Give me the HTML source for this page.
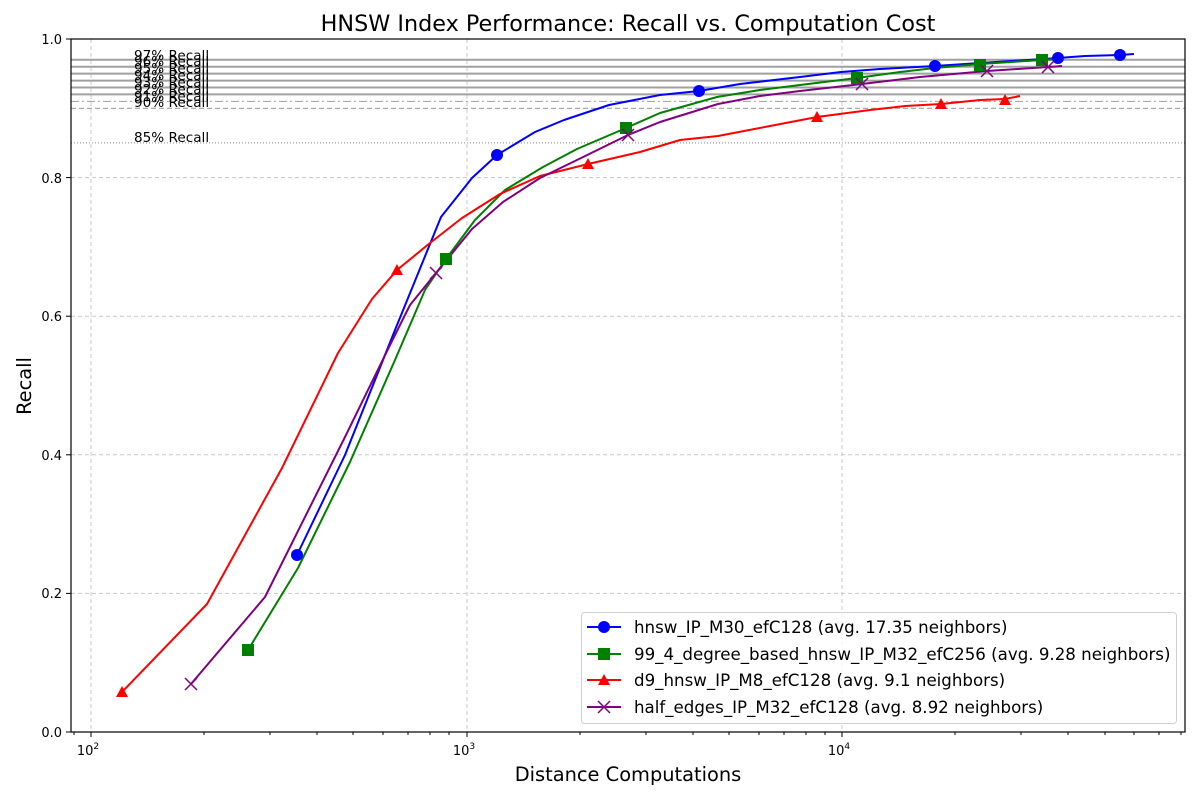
<!DOCTYPE html>
<html><head><meta charset="utf-8"><style>
html,body{margin:0;padding:0;background:#fff}
svg{display:block;font-family:"DejaVu Sans","Liberation Sans",sans-serif}
</style></head><body>
<svg width="1200" height="800" viewBox="0 0 1200 800" xmlns="http://www.w3.org/2000/svg">
<rect width="1200" height="800" fill="#fff"/>
<text x="628" y="31" font-size="22.3" text-anchor="middle">HNSW Index Performance: Recall vs. Computation Cost</text>
<g stroke="#c8c8c8" stroke-dasharray="4,3" stroke-width="1">
<line x1="91" y1="39" x2="91" y2="732"/><line x1="467" y1="39" x2="467" y2="732"/><line x1="842" y1="39" x2="842" y2="732"/>
<line x1="71" y1="593.4" x2="1185" y2="593.4"/><line x1="71" y1="454.8" x2="1185" y2="454.8"/><line x1="71" y1="316.2" x2="1185" y2="316.2"/><line x1="71" y1="177.6" x2="1185" y2="177.6"/>
</g>
<g stroke="#a0a0a0" stroke-width="2">
<line x1="71" y1="59.8" x2="1185" y2="59.8"/><line x1="71" y1="66.7" x2="1185" y2="66.7"/><line x1="71" y1="73.6" x2="1185" y2="73.6"/><line x1="71" y1="80.6" x2="1185" y2="80.6"/><line x1="71" y1="87.5" x2="1185" y2="87.5"/><line x1="71" y1="94.4" x2="1185" y2="94.4"/>
</g>
<line x1="71" y1="101.4" x2="1185" y2="101.4" stroke="#a0a0a0" stroke-width="1" stroke-dasharray="8,3,2,3"/>
<line x1="71" y1="108.3" x2="1185" y2="108.3" stroke="#a0a0a0" stroke-width="1.2" stroke-dasharray="5,3"/>
<line x1="71" y1="142.9" x2="1185" y2="142.9" stroke="#a0a0a0" stroke-width="1.2" stroke-dasharray="1,2"/>
<g font-size="13.6" fill="#000">
<text x="134" y="60">97% Recall</text><text x="134" y="66">96% Recall</text><text x="134" y="73">95% Recall</text><text x="134" y="80">94% Recall</text><text x="134" y="87">93% Recall</text><text x="134" y="94">92% Recall</text><text x="134" y="101">91% Recall</text><text x="134" y="107">90% Recall</text><text x="134" y="142">85% Recall</text>
</g>
<g fill="none" stroke-width="2" stroke-linejoin="round">
<polyline stroke="#0000ff" points="297,555 345,455 395,330 441,217 472,178 497,155 535,132 564,120 609,105 660,95 699,91 740,84 800,77 841,72 880,69 935,66 980,63 1058,58 1085,56 1120,55 1134,54"/>
<polyline stroke="#008000" points="248,650 298,568 350,462 395,360 425,290 446,259 475,220 505,190 543,167 577,149 626,128 660,113 717,97 760,90 800,85 857,78 900,72 935,68 980,64 1042,60 1060,59"/>
<polyline stroke="#ff0000" points="122,692 207,604 282,468 338,353 372,299 397,270 430,243 462,218 500,194 540,176 588,164 640,152 680,140 718,136 770,126 817,117 870,110 905,106 941,104 980,100 1005,99 1020,96"/>
<polyline stroke="#800080" points="191,684 265,597 345,437 390,345 410,305 436,273 472,229 503,202 540,178 577,160 628,135 660,122 718,104 760,96 800,91 862,84 920,77 987,71 1048,67 1062,66"/>
</g>
<g fill="#0000ff"><circle cx="297" cy="555" r="6"/><circle cx="497" cy="155" r="6"/><circle cx="699" cy="91" r="6"/><circle cx="935" cy="66" r="6"/><circle cx="1058" cy="58" r="6"/><circle cx="1120" cy="55" r="6"/></g>
<g fill="#008000"><rect x="242" y="644" width="12" height="12"/><rect x="440" y="253" width="12" height="12"/><rect x="620" y="122" width="12" height="12"/><rect x="851" y="72" width="12" height="12"/><rect x="974" y="59" width="12" height="12"/><rect x="1036" y="54" width="12" height="12"/></g>
<g fill="#ff0000"><polygon points="122,686 116,697 128,697"/><polygon points="397,264 391,275 403,275"/><polygon points="588,158 582,169 594,169"/><polygon points="817,111 811,122 823,122"/><polygon points="941,98 935,109 947,109"/><polygon points="1005,94 999,105 1011,105"/></g>
<g stroke="#800080" stroke-width="1.5">
<path d="M185,678l12,12M197,678l-12,12M430,267l12,12M442,267l-12,12M622,129l12,12M634,129l-12,12M856,78l12,12M868,78l-12,12M981,65l12,12M993,65l-12,12M1042,61l12,12M1054,61l-12,12"/>
</g>
<rect x="71" y="39" width="1114" height="693" fill="none" stroke="#000" stroke-width="1.2"/>
<g stroke="#000" stroke-width="1"><line x1="66" y1="732" x2="71" y2="732"/><line x1="66" y1="593.4" x2="71" y2="593.4"/><line x1="66" y1="454.8" x2="71" y2="454.8"/><line x1="66" y1="316.2" x2="71" y2="316.2"/><line x1="66" y1="177.6" x2="71" y2="177.6"/><line x1="66" y1="39" x2="71" y2="39"/></g>
<g font-size="13" text-anchor="end"><text x="62" y="737">0.0</text><text x="62" y="598">0.2</text><text x="62" y="460">0.4</text><text x="62" y="321">0.6</text><text x="62" y="183">0.8</text><text x="62" y="44">1.0</text></g>
<g stroke="#000" stroke-width="1">
<line x1="91" y1="732" x2="91" y2="737"/><line x1="467" y1="732" x2="467" y2="737"/><line x1="842" y1="732" x2="842" y2="737"/>
<path d="M74,732v3M204,732v3M270,732v3M317,732v3M353,732v3M383,732v3M408,732v3M430,732v3M449,732v3M580,732v3M646,732v3M693,732v3M729,732v3M759,732v3M784,732v3M806,732v3M825,732v3M955,732v3M1021,732v3M1068,732v3M1105,732v3M1134,732v3M1159,732v3M1181,732v3"/>
</g>
<g font-size="13" text-anchor="middle"><text x="88" y="755">10<tspan font-size="9" dy="-6">2</tspan></text><text x="464" y="755">10<tspan font-size="9" dy="-6">3</tspan></text><text x="839" y="755">10<tspan font-size="9" dy="-6">4</tspan></text></g>
<text x="628" y="781" font-size="19.4" text-anchor="middle">Distance Computations</text>
<text transform="translate(31,386) rotate(-90)" font-size="19.4" text-anchor="middle">Recall</text>
<rect x="581.5" y="612.5" width="595" height="111" rx="3" fill="#fff" fill-opacity="0.8" stroke="#d0d0d0"/>
<g stroke-width="2"><line x1="587" y1="627" x2="621" y2="627" stroke="#0000ff"/><line x1="587" y1="654" x2="621" y2="654" stroke="#008000"/><line x1="587" y1="680" x2="621" y2="680" stroke="#ff0000"/><line x1="587" y1="707" x2="621" y2="707" stroke="#800080"/></g>
<circle cx="604" cy="627" r="6" fill="#0000ff"/>
<rect x="598" y="648" width="12" height="12" fill="#008000"/>
<polygon points="604,674 598,685 610,685" fill="#ff0000"/>
<path d="M598,701l12,12M610,701l-12,12" stroke="#800080" stroke-width="1.5"/>
<g font-size="16.65"><text x="634" y="633">hnsw_IP_M30_efC128 (avg. 17.35 neighbors)</text><text x="634" y="660">99_4_degree_based_hnsw_IP_M32_efC256 (avg. 9.28 neighbors)</text><text x="634" y="686">d9_hnsw_IP_M8_efC128 (avg. 9.1 neighbors)</text><text x="634" y="713">half_edges_IP_M32_efC128 (avg. 8.92 neighbors)</text></g>
</svg>
</body></html>
